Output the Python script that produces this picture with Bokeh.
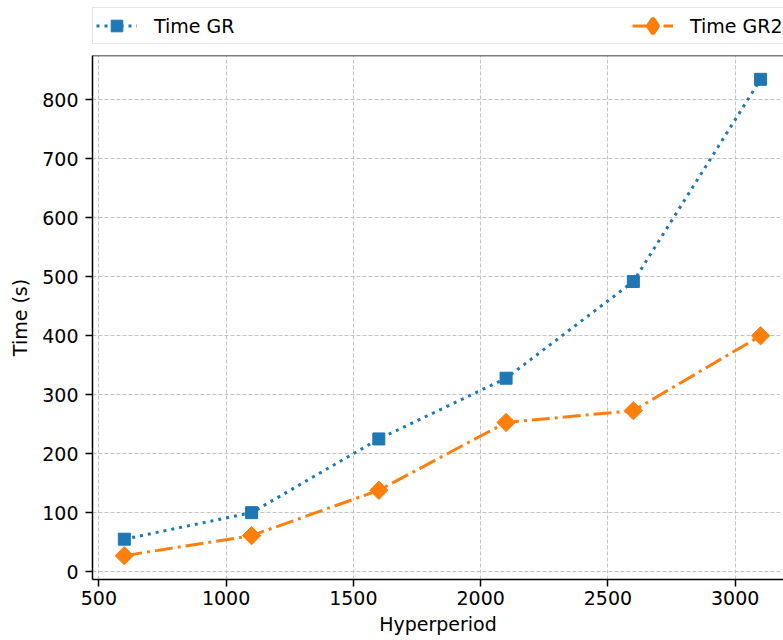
import numpy as np
from bokeh.plotting import figure
from bokeh.layouts import column
from bokeh.models import (Range1d, FixedTicker, Legend, LegendItem, Span)
from bokeh.embed import file_html
from bokeh.resources import INLINE

# Measured run times against hyperperiod length
hyperperiod = [600, 1100, 1600, 2100, 2600, 3100]
time_gr = [55, 100, 225, 328, 492, 835]
time_gr2 = [27, 61, 138, 253, 273, 400]

series_labels = ["Time GR", "Time GR2"]
x_ticks = [500, 1000, 1500, 2000, 2500, 3000]
y_ticks = [0, 100, 200, 300, 400, 500, 600, 700, 800]

BLUE = "#1f77b4"
ORANGE = "#ff7f0e"
FONT = "DejaVu Sans"
FSIZE = "19px"

LINE_GR = dict(line_color=BLUE, line_width=3, line_dash="3 5")
MARK_GR = dict(marker="square", size=12, fill_color=BLUE, line_color=BLUE)
LINE_GR2 = dict(line_color=ORANGE, line_width=3, line_dash="18 5 3 5")
MARK_GR2 = dict(marker="square", angle=np.pi / 4, size=13,
                fill_color=ORANGE, line_color=ORANGE)

# 5% padding around the data, as in the usual autoscaled view
xpad = (max(hyperperiod) - min(hyperperiod)) * 0.05
ymin = min(time_gr2)
ymax = max(time_gr)
ypad = (ymax - ymin) * 0.05

TOP_H = 53

# ---- main plot ----
p = figure(width=783, height=640 - TOP_H, output_backend="svg",
           toolbar_location=None,
           x_range=Range1d(min(hyperperiod) - xpad, 3190),
           y_range=Range1d(ymin - ypad, ymax + ypad),
           min_border_left=92, min_border_right=0,
           min_border_top=2, min_border_bottom=61)

p.outline_line_color = None
p.background_fill_color = "white"
p.border_fill_color = "white"

for ax in (p.xaxis[0], p.yaxis[0]):
    ax.axis_line_color = "black"
    ax.axis_line_width = 1.5
    ax.major_tick_line_color = "black"
    ax.major_tick_line_width = 1.5
    ax.major_tick_out = 7
    ax.major_tick_in = 0
    ax.minor_tick_line_color = None
    ax.major_label_text_font = FONT
    ax.major_label_text_font_size = FSIZE
    ax.major_label_text_color = "black"
    ax.axis_label_text_font = FONT
    ax.axis_label_text_font_size = FSIZE
    ax.axis_label_text_font_style = "normal"
    ax.axis_label_text_color = "black"

p.xaxis.ticker = FixedTicker(ticks=x_ticks)
p.yaxis.ticker = FixedTicker(ticks=y_ticks)
p.xaxis.axis_label = "Hyperperiod"
p.yaxis.axis_label = "Time (s)"
p.xaxis.major_label_standoff = 4
p.xaxis.axis_label_standoff = 5
p.yaxis.major_label_standoff = 7
p.yaxis.axis_label_standoff = 8

# top spine
p.add_layout(Span(location=ymax + ypad, dimension="width",
                  line_color="black", line_width=1.5))

for g in (p.xgrid[0], p.ygrid[0]):
    g.grid_line_color = "#c4c4c4"
    g.grid_line_width = 1
    g.grid_line_dash = "4 2"
p.xgrid.ticker = FixedTicker(ticks=x_ticks)
p.ygrid.ticker = FixedTicker(ticks=y_ticks)

p.line(hyperperiod, time_gr, **LINE_GR)
p.scatter(hyperperiod, time_gr, **MARK_GR)
p.line(hyperperiod, time_gr2, **LINE_GR2)
p.scatter(hyperperiod, time_gr2, **MARK_GR2)

# ---- legend strip above the plot (its own renderers sit outside its view) ----
lg = figure(width=783, height=TOP_H, output_backend="svg", toolbar_location=None,
            x_axis_type=None, y_axis_type=None, min_border=0,
            x_range=Range1d(0, 1), y_range=Range1d(0, 1))
lg.outline_line_color = None
lg.grid.visible = False
la = lg.line(hyperperiod, time_gr, **LINE_GR)
ma = lg.scatter(hyperperiod, time_gr, **MARK_GR)
lb = lg.line(hyperperiod, time_gr2, **LINE_GR2)
# legend swatches ignore marker angle, so use a thick-edged diamond marker here
mb = lg.scatter(hyperperiod, time_gr2, marker="diamond", size=13,
                fill_color=ORANGE, line_color=ORANGE, line_width=6,
                line_join="round")

legend = Legend(items=[LegendItem(label=series_labels[0], renderers=[la, ma]),
                       LegendItem(label=series_labels[1], renderers=[lb, mb])],
                orientation="horizontal", location=(0, 9),
                glyph_width=41, glyph_height=29, label_standoff=17,
                label_width=468, spacing=10, padding=3, margin=0,
                label_text_font=FONT, label_text_font_size=FSIZE,
                label_text_color="black",
                border_line_color="#cccccc", border_line_width=1.5,
                background_fill_color="white", background_fill_alpha=0.8)
lg.add_layout(legend, "center")

open("out.html", "w").write(file_html(column(lg, p, spacing=0), INLINE))
